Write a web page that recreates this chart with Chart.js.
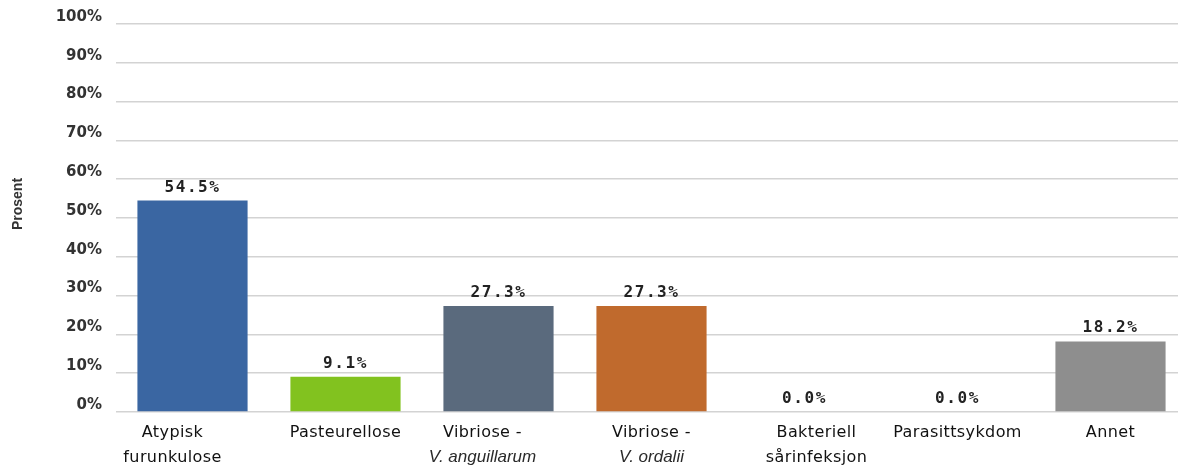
<!DOCTYPE html>
<html lang="no">
<head>
<meta charset="utf-8">
<title>Diagnoser – prosent</title>
<script src="https://cdn.jsdelivr.net/npm/chart.js@4.4.1/dist/chart.umd.min.js"></script>
<style>
  html, body { margin: 0; padding: 0; background: #ffffff; overflow: hidden; }
  #wrap { position: relative; width: 1200px; height: 467px; }
</style>
</head>
<body>
<div id="wrap"><canvas id="chart"></canvas></div>
<script>
// Category labels: first line, second line (second line may be empty)
const labelLine1 = ["Atypisk", "Pasteurellose", "Vibriose -", "Vibriose -", "Bakteriell", "Parasittsykdom", "Annet"];
const labelLine2 = ["furunkulose", "", "V. anguillarum", "V. ordalii", "sårinfeksjon", "", ""];
// Which second lines are species names (set in italics)
const italicLine2 = [false, false, true, true, false, false, false];

// Share of cases per diagnosis, in percent
const values = [54.5, 9.1, 27.3, 27.3, 0.0, 0.0, 18.2];

// Y-axis ticks
const yTickValues = [0, 10, 20, 30, 40, 50, 60, 70, 80, 90, 100];
const yTickLabels = ["0%", "10%", "20%", "30%", "40%", "50%", "60%", "70%", "80%", "90%", "100%"];

const barColors = ["#3a66a2", "#82c21f", "#5a6a7d", "#c06a2d", "#8e8e8e", "#8e8e8e", "#8e8e8e"];

// Small horizontal nudges for the category captions
const captionShift = [-20, 0, -16, 0, 12, 0, 0];

const categories = labelLine1.map((l1, i) => labelLine2[i] ? l1 + " " + labelLine2[i] : l1);

const annotate = {
  id: "annotate",
  afterDatasetsDraw(chart) {
    const ctx = chart.ctx;
    const meta = chart.getDatasetMeta(0);
    // value labels above the bars
    ctx.save();
    ctx.font = 'bold 16px "DejaVu Sans Mono"';
    ctx.letterSpacing = "1.6px";
    ctx.fillStyle = "#222222";
    ctx.textAlign = "center";
    ctx.textBaseline = "alphabetic";
    meta.data.forEach((bar, i) => {
      ctx.fillText(values[i].toFixed(1) + "%", bar.x, bar.y - 9);
    });
    ctx.restore();

    // category captions under the plot
    const xs = chart.scales.x;
    ctx.save();
    ctx.fillStyle = "#111111";
    ctx.textAlign = "center";
    ctx.textBaseline = "alphabetic";
    labelLine1.forEach((l1, i) => {
      const cx = xs.getPixelForValue(i) + captionShift[i];
      ctx.font = '16px "DejaVu Sans"';
      ctx.letterSpacing = "0.4px";
      ctx.fillText(l1, cx, 437);
      if (labelLine2[i]) {
        if (italicLine2[i]) {
          ctx.font = 'italic 17px "Liberation Sans"';
          ctx.letterSpacing = "0px";
          ctx.fillStyle = "#2a2a2a";
        } else {
          ctx.font = '16px "DejaVu Sans"';
          ctx.letterSpacing = "0.4px";
          ctx.fillStyle = "#111111";
        }
        ctx.fillText(labelLine2[i], cx, 462);
        ctx.fillStyle = "#111111";
      }
    });
    ctx.restore();

    // y-axis title
    ctx.save();
    ctx.translate(18, 204);
    ctx.rotate(-Math.PI / 2);
    ctx.font = 'bold 14px "Liberation Sans"';
    ctx.fillStyle = "#333333";
    ctx.textAlign = "center";
    ctx.textBaseline = "middle";
    ctx.fillText("Prosent", 0, 0);
    ctx.restore();
  }
};

new Chart(document.getElementById("chart"), {
  type: "bar",
  data: {
    labels: categories,
    datasets: [{
      data: values,
      backgroundColor: barColors,
      borderWidth: 0,
      barPercentage: 0.72,
      categoryPercentage: 1.0
    }]
  },
  options: {
    responsive: true,
    maintainAspectRatio: false,
    animation: false,
    layout: { padding: { top: 24, right: 13, left: 0, bottom: 0 } },
    plugins: {
      legend: { display: false },
      tooltip: { enabled: false },
      title: { display: false }
    },
    scales: {
      x: {
        grid: { display: false },
        border: { display: false },
        ticks: { display: false },
        afterFit(scale) { scale.height = 55; }
      },
      y: {
        min: 0,
        max: 100,
        afterBuildTicks(scale) {
          scale.ticks = yTickValues.map(v => ({ value: v }));
        },
        afterFit(scale) { scale.width = 116; },
        grid: { color: "#d3d3d3", lineWidth: 1.5, drawTicks: false },
        border: { display: false },
        ticks: {
          padding: 14,
          labelOffset: -7,
          color: "#333333",
          font: { family: "DejaVu Sans", size: 15, weight: "bold" },
          callback: (v) => yTickLabels[yTickValues.indexOf(v)]
        }
      }
    }
  },
  plugins: [annotate]
});
</script>
</body>
</html>
